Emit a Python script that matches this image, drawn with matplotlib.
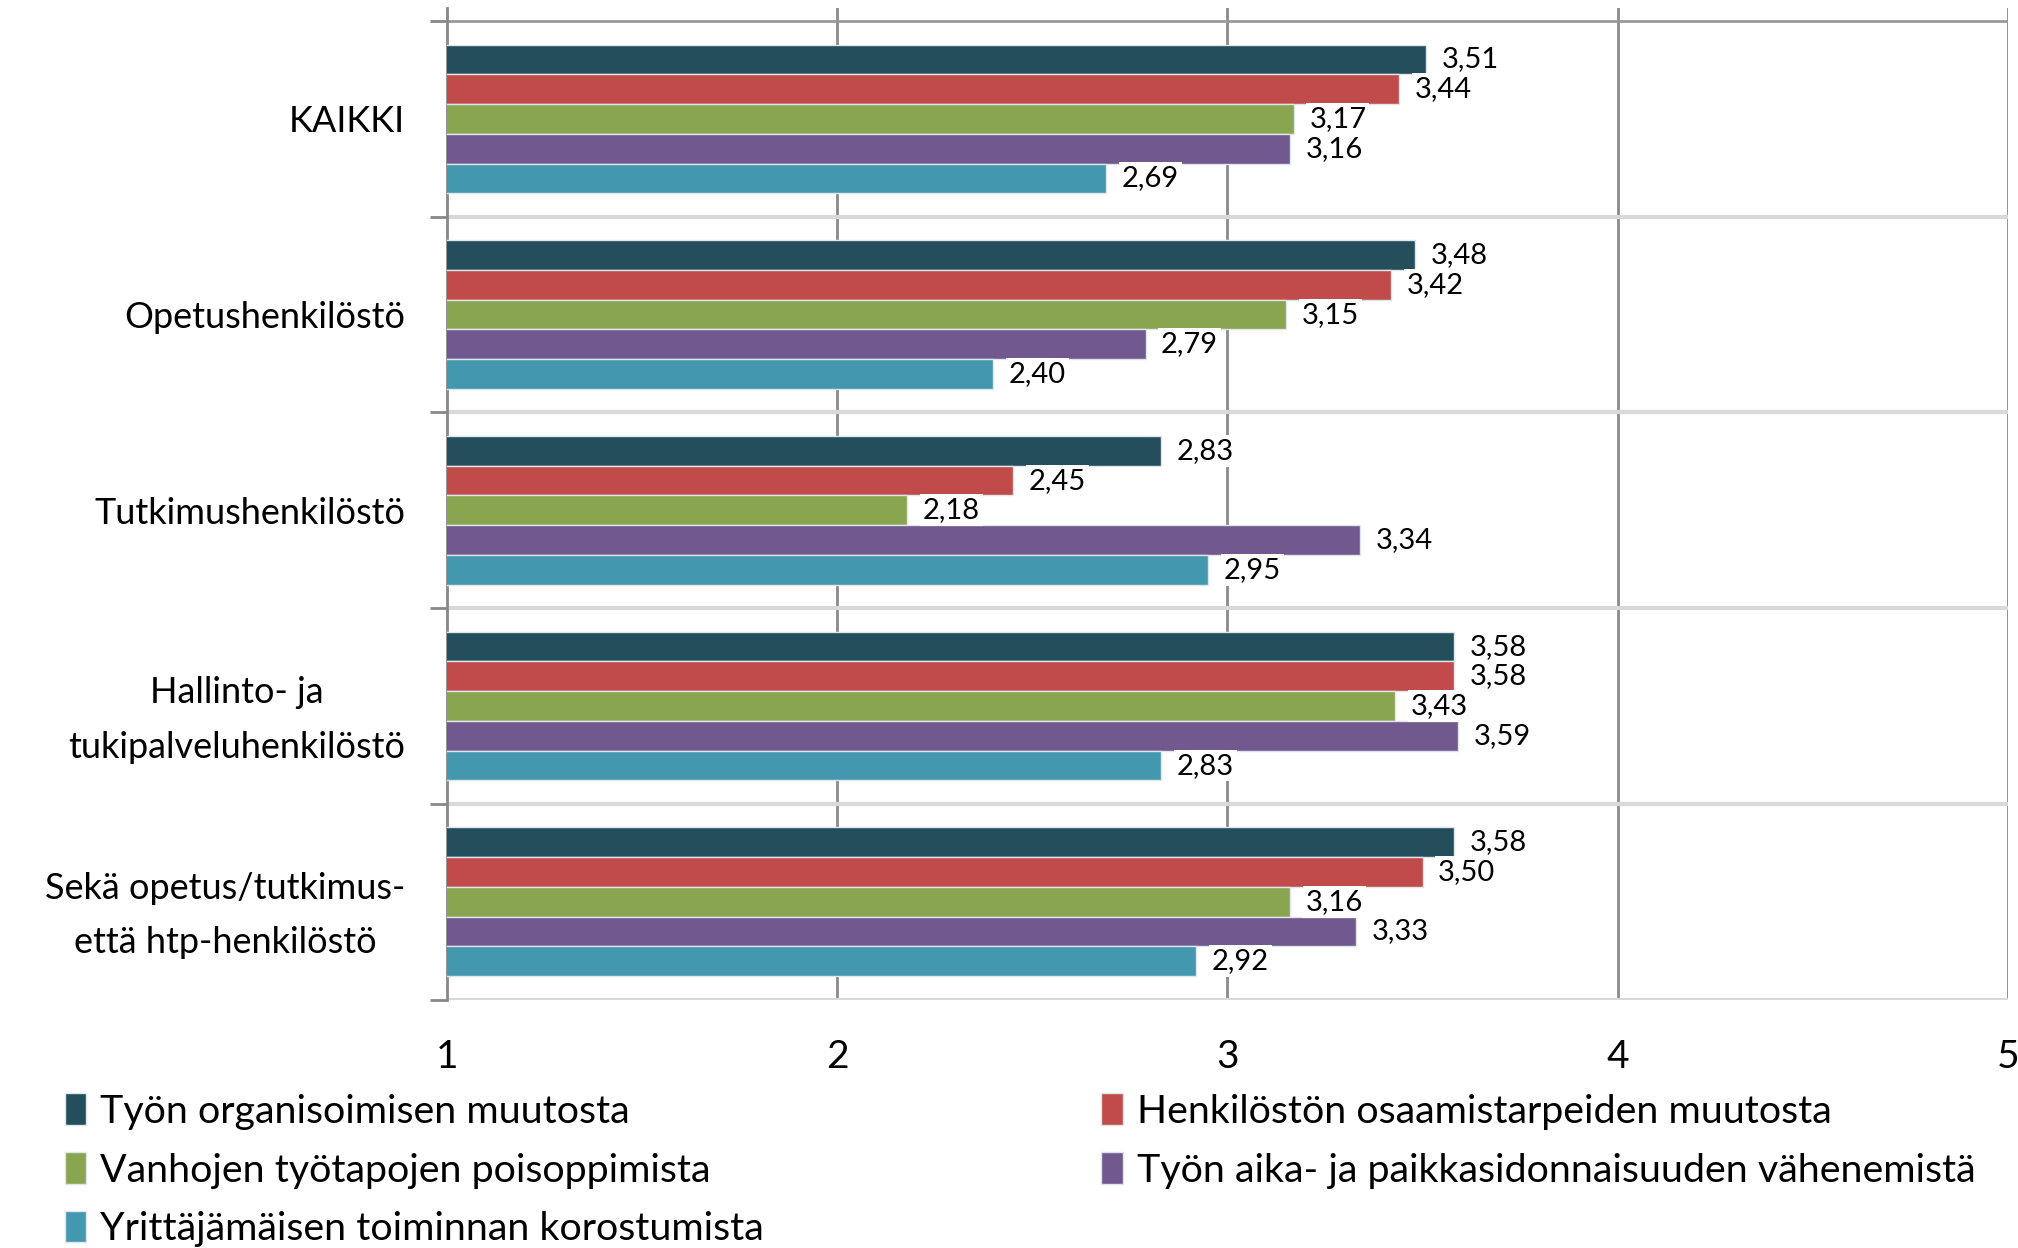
import matplotlib.pyplot as plt
import numpy as np

plt.rcParams['font.family'] = ['Lato', 'DejaVu Sans']

# categories top -> bottom
groups = ["KAIKKI", "Opetushenkilöstö", "Tutkimushenkilöstö",
          "Hallinto- ja\ntukipalveluhenkilöstö",
          "Sekä opetus/tutkimus-\nettä htp-henkilöstö"]

series = ["Työn organisoimisen muutosta",
          "Henkilöstön osaamistarpeiden muutosta",
          "Vanhojen työtapojen poisoppimista",
          "Työn aika- ja paikkasidonnaisuuden vähenemistä",
          "Yrittäjämäisen toiminnan korostumista"]

# values per series, one per group
org     = [3.51, 3.48, 2.83, 3.58, 3.58]
osaam   = [3.44, 3.42, 2.45, 3.58, 3.50]
vanhat  = [3.17, 3.15, 2.18, 3.43, 3.16]
aika    = [3.16, 2.79, 3.34, 3.59, 3.33]
yritt   = [2.69, 2.40, 2.95, 2.83, 2.92]

colors = ["#244E5C", "#C04B4A", "#8AA550", "#71588F", "#4397AE"]

xticks = [1, 2, 3, 4, 5]

fig = plt.figure(figsize=(20.18, 12.48), dpi=100)
ax = fig.add_axes([0.2215, 0.199, 0.7735, 0.7945])

y = np.arange(len(groups))
bh = 0.152
data = [org, osaam, vanhat, aika, yritt]
handles = []
for k, vals in enumerate(data):
    pos = y + (k - 2) * bh
    b = ax.barh(pos, vals, height=bh, color=colors[k], edgecolor="#dde6ea",
                linewidth=1.0, zorder=3, label=series[k])
    handles.append(b)
    for p, v in zip(pos, vals):
        ax.text(v + 0.04, p, f"{v:.2f}".replace(".", ","), va="center",
                ha="left", fontsize=21, zorder=5,
                bbox=dict(boxstyle="square,pad=0.1", fc="white", ec="none"))

ax.set_xlim(1, 5)
ax.set_ylim(4.5, -0.566)
ax.set_xticks(xticks)
ax.set_xticklabels([str(t) for t in xticks], fontsize=28)
ax.tick_params(axis="x", length=0, pad=28)

# category boundaries as major ticks, labels on minor ticks
bounds = np.arange(-0.5, len(groups), 1.0)
ax.set_yticks(bounds)
ax.set_yticklabels([])
ax.tick_params(axis="y", which="major", length=12, width=2, color="#888888")
ax.set_yticks(y, minor=True)
ax.set_yticklabels(groups, minor=True, fontsize=26, multialignment="center",
                   linespacing=1.8)
ax.tick_params(axis="y", which="minor", length=0, pad=30)

for xv in xticks[1:]:
    ax.axvline(xv, color="#8a8a8a", lw=2, zorder=1)
for bv in bounds[1:]:
    ax.axhline(bv, color="#d9d9d9", lw=3, zorder=1)
ax.axhline(bounds[0], color="#999999", lw=2, zorder=1)

for s in ["top", "right", "bottom"]:
    ax.spines[s].set_visible(False)
ax.spines["left"].set_color("#888888")
ax.spines["left"].set_linewidth(2)

order = [0, 2, 4, 1, 3]
fig.legend([handles[i] for i in order], [series[i] for i in order],
           loc="upper left", bbox_to_anchor=(0.032, 0.124), ncol=2,
           frameon=False, fontsize=28.4, handlelength=0.55, handleheight=0.85,
           handletextpad=0.35, columnspacing=8.55, labelspacing=0.57,
           borderpad=0, borderaxespad=0)

fig.savefig("out.png", dpi=100)
